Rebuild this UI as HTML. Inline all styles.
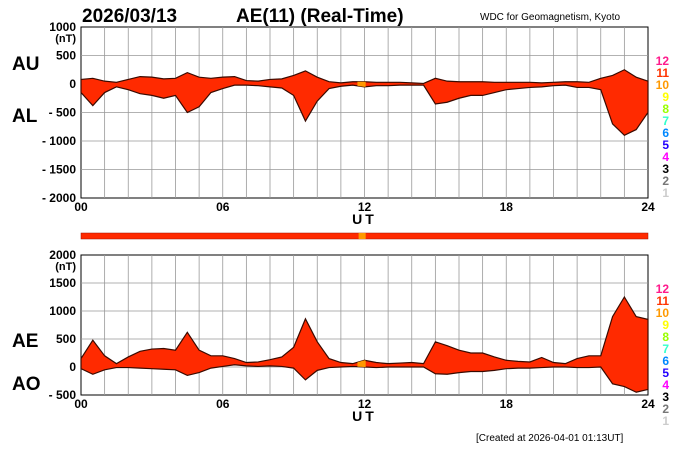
<!DOCTYPE html>
<html><head><meta charset="utf-8"><style>
html,body{margin:0;padding:0;background:#fff}
svg{display:block;font-family:"Liberation Sans",sans-serif}
</style></head><body>
<svg id="c" width="700" height="450" viewBox="0 0 700 450">
<text x="82" y="22" font-size="19" font-weight="bold">2026/03/13</text>
<text x="236" y="22" font-size="19" font-weight="bold">AE(11) (Real-Time)</text>
<text x="480" y="20" font-size="10">WDC for Geomagnetism, Kyoto</text>
<text x="12" y="70" font-size="19" font-weight="bold">AU</text>
<text x="12" y="122" font-size="19" font-weight="bold">AL</text>
<text x="12" y="347" font-size="19" font-weight="bold">AE</text>
<text x="12" y="390" font-size="19" font-weight="bold">AO</text>
<text x="476" y="441" font-size="10">[Created at 2026-04-01 01:13UT]</text>
<g id="top"></g><g id="bot"></g>
</svg>
<script>
const hours=[0,0.5,1,1.5,2,2.5,3,3.5,4,4.5,5,5.5,6,6.5,7,7.5,8,8.5,9,9.5,10,10.5,11,11.5,12,12.5,13,13.5,14,14.5,15,15.5,16,16.5,17,17.5,18,18.5,19,19.5,20,20.5,21,21.5,22,22.5,23,23.5,24];
const au=[80,100,50,30,80,130,120,90,100,200,120,100,120,130,60,50,80,90,150,230,120,40,20,40,40,30,30,30,20,10,100,50,40,40,40,30,30,30,30,20,30,40,40,30,100,150,250,120,50];
const al=[-150,-380,-150,-50,-100,-170,-200,-250,-200,-500,-400,-150,-80,-20,-20,-30,-50,-70,-200,-650,-300,-80,-40,-20,-50,-30,-30,-20,-20,-20,-350,-320,-250,-200,-200,-150,-100,-80,-60,-50,-30,-20,-60,-60,-100,-700,-900,-800,-500];
const ae=[150,480,200,60,180,280,320,330,300,620,300,200,200,150,80,90,130,180,350,860,450,150,80,60,120,80,60,70,80,60,450,380,300,250,250,180,120,100,90,170,80,60,150,200,200,900,1250,900,850];
const ao=[-30,-130,-50,-10,-10,-20,-30,-40,-50,-150,-100,-20,10,40,20,10,20,10,-20,-230,-60,-10,0,10,0,-10,0,0,0,0,-120,-130,-100,-80,-80,-60,-30,-20,-20,-10,0,0,-10,-10,0,-300,-350,-450,-400];
const topTicks=[1000,500,0,-500,-1000,-1500,-2000];
const botTicks=[2000,1500,1000,500,0,-500];
const xTicks=["00","06","12","18","24"];
const legendNums=["12","11","10","9","8","7","6","5","4","3","2","1"];
const legendCols=["#ff1a8c","#ff3300","#ff9900","#ffff00","#99ff00","#33ffcc","#0088ff","#2200ff","#ff00ff","#000","#777","#ccc"];
const NS="http://www.w3.org/2000/svg";
const X0=81,X1=648;
const xs=h=>X0+(X1-X0)*h/24;
function mk(p,t,a){const e=document.createElementNS(NS,t);for(const k in a)e.setAttribute(k,a[k]);p.appendChild(e);return e;}
function panel(g,yTop,yBot,vMax,vMin,ticks,upper,lower,name,showNT){
  const ys=v=>yTop+(vMax-v)*(yBot-yTop)/(vMax-vMin);
  mk(g,'rect',{x:X0,y:yTop,width:X1-X0,height:yBot-yTop,fill:'#fff',stroke:'#000','stroke-width':1});
  for(let h=1;h<24;h++){const l=mk(g,'line',{x1:xs(h),x2:xs(h),y1:yTop,y2:yBot,stroke:'#999','stroke-width':0.8});
    
    }
  ticks.forEach((t,i)=>{const y=ys(t);
    if(i>0&&i<ticks.length-1){const l=mk(g,'line',{x1:X0,x2:X1,y1:y,y2:y,stroke:'#999','stroke-width':0.8});
      
      }
    const tx=mk(g,'text',{x:76,y:y+4,'font-size':12,'font-weight':'bold','text-anchor':'end'});
    tx.textContent=t<0?'- '+(-t):String(t);
    
    });
  if(showNT){const n=mk(g,'text',{x:76,y:ys(ticks[0])+15,'font-size':11,'font-weight':'bold','text-anchor':'end'});n.textContent='(nT)';
    
    }
  let d='M'+hours.map((h,i)=>xs(h)+','+ys(upper[i])).join('L');
  d+='L'+hours.slice().reverse().map((h,j)=>{const i=hours.length-1-j;return xs(h)+','+ys(lower[i]);}).join('L')+'Z';
  const cid='clip'+name;
  const cp=mk(g,'clipPath',{id:cid});mk(cp,'path',{d});
  const f=mk(g,'path',{d,fill:'#ff2a00',stroke:'#3a0a00','stroke-width':1.2});
  
  
  const o=mk(g,'rect',{x:xs(11.7),y:yTop,width:xs(12.05)-xs(11.7),height:yBot-yTop,fill:'#ff9900','clip-path':'url(#'+cid+')'});
  
  
  xTicks.forEach((t,i)=>{const tx=mk(g,'text',{x:xs(i*6),y:yBot+13,'font-size':12,'font-weight':'bold','text-anchor':'middle'});tx.textContent=t;
    
    });
  const ut=mk(g,'text',{x:xs(12),y:yBot+26,'font-size':14,'font-weight':'bold','text-anchor':'middle','letter-spacing':3});ut.textContent='UT';
  
  
  legendNums.forEach((n,i)=>{const tx=mk(g,'text',{x:669,y:yTop+38+i*12,'font-size':12,'font-weight':'bold','text-anchor':'end',fill:legendCols[i]});tx.textContent=n;
    
    });
}
panel(document.getElementById('top'),27,198,1000,-2000,topTicks,au,al,'au-al',true);
panel(document.getElementById('bot'),255,395,2000,-500,botTicks,ae,ao,'ae-ao',true);
const svg=document.getElementById('c');
const bar=mk(svg,'rect',{x:X0,y:233,width:X1-X0,height:6,fill:'#ff2a00',stroke:'#a01000','stroke-width':0.5});


const ob=mk(svg,'rect',{x:xs(11.75),y:233,width:xs(12.05)-xs(11.75),height:6,fill:'#ff9900'});


</script>
</body></html>
